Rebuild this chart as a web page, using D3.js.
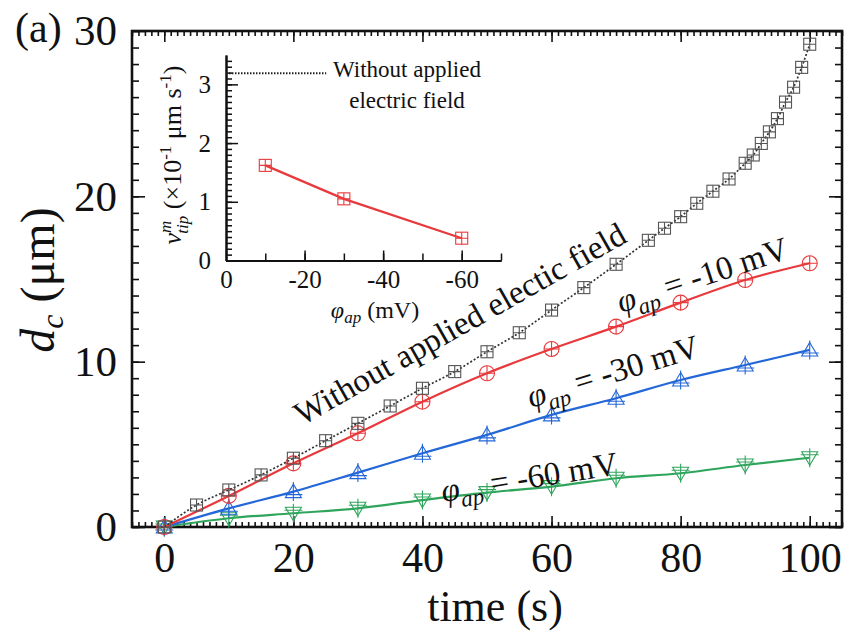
<!DOCTYPE html>
<html>
<head>
<meta charset="utf-8">
<script src="https://cdn.jsdelivr.net/npm/d3@7"></script>
<style>
body { margin: 0; background: white; }
svg { display: block; font-family: "Liberation Serif", "Times New Roman", serif; }
</style>
</head>
<body>
<div id="chart"></div>
<script>
// main panel: crack length d_c (um) vs time (s)
const timeNoField = [0, 5, 10, 15, 20, 25, 30, 35, 40, 45, 50, 55, 60, 65, 70, 75,
    77.5, 80, 82.5, 85, 87.5, 90, 91.25, 92.5, 93.75, 95, 96.25, 97.5, 98.75, 100]
const dcNoField = [0, 1.33, 2.24, 3.15, 4.16, 5.22, 6.27, 7.32, 8.39, 9.4, 10.6, 11.75, 13.12, 14.48, 15.89, 17.34,
    18.07, 18.77, 19.58, 20.31, 21.05, 22.0, 22.5, 23.2, 23.9, 24.7, 25.7, 26.6, 27.8, 29.2]

const timeApplied = [0, 10, 20, 30, 40, 50, 60, 70, 80, 90, 100]
const dcMinus10 = [0, 1.88, 3.85, 5.67, 7.58, 9.3, 10.77, 12.12, 13.57, 14.94, 15.95]
const dcMinus30 = [0, 1.13, 2.14, 3.29, 4.46, 5.57, 6.78, 7.79, 8.89, 9.8, 10.71]
const dcMinus60 = [0, 0.53, 0.83, 1.13, 1.63, 2.08, 2.44, 2.95, 3.25, 3.75, 4.19]

const xTicks = [0, 20, 40, 60, 80, 100]
const yTicks = [0, 10, 20, 30]

// inset: tip velocity vs applied potential
const insetPhi = [-10, -30, -60]
const insetVtip = [1.62, 1.05, 0.38]
const insetNoField = 3.19
const insetXTicks = [0, -20, -40, -60]
const insetYTicks = [0, 1, 2, 3]

const red = "#e8393c"
const blue = "#2467d8"
const green = "#2fa55c"
const grey = "#555"

const width = 850, height = 631

const svg = d3.select("#chart").append("svg")
    .attr("width", width)
    .attr("height", height)

const x = d3.scaleLinear().domain([-5, 105]).range([132, 842])
const y = d3.scaleLinear().domain([0, 30]).range([527, 31])

function styleAxis(g) {
    g.select(".domain").remove()
    g.selectAll(".tick line").attr("stroke", "#111").attr("stroke-width", 1.6)
    g.selectAll("text").attr("fill", "#111").attr("font-family", "Liberation Serif")
}

// minor ticks on all four sides
const minorX = d3.range(-5, 106, 1)
const minorY = d3.range(0, 31, 1)
svg.append("g").attr("transform", `translate(0,${y(0)})`)
    .call(d3.axisBottom(x).tickValues(minorX).tickSize(-5).tickFormat("")).call(styleAxis)
svg.append("g").attr("transform", `translate(0,${y(30)})`)
    .call(d3.axisTop(x).tickValues(minorX).tickSize(-5).tickFormat("")).call(styleAxis)
svg.append("g").attr("transform", `translate(${x(-5)},0)`)
    .call(d3.axisLeft(y).tickValues(minorY).tickSize(-7).tickFormat("")).call(styleAxis)
svg.append("g").attr("transform", `translate(${x(105)},0)`)
    .call(d3.axisRight(y).tickValues(minorY).tickSize(-7).tickFormat("")).call(styleAxis)

// major ticks + labels
svg.append("g").attr("transform", `translate(0,${y(0)})`)
    .call(d3.axisBottom(x).tickValues(xTicks).tickSize(-11).tickPadding(15).tickFormat(d => String(d)))
    .call(styleAxis)
    .selectAll("text").attr("font-size", 42)
svg.append("g").attr("transform", `translate(0,${y(30)})`)
    .call(d3.axisTop(x).tickValues(xTicks).tickSize(-11).tickFormat("")).call(styleAxis)
svg.append("g").attr("transform", `translate(${x(-5)},0)`)
    .call(d3.axisLeft(y).tickValues(yTicks).tickSize(-13).tickPadding(15).tickFormat(d => String(d)))
    .call(styleAxis)
    .selectAll("text").attr("font-size", 43)
svg.append("g").attr("transform", `translate(${x(105)},0)`)
    .call(d3.axisRight(y).tickValues(yTicks).tickSize(-13).tickFormat("")).call(styleAxis)

// frame
svg.append("rect")
    .attr("x", x(-5)).attr("y", y(30))
    .attr("width", x(105) - x(-5)).attr("height", y(0) - y(30))
    .attr("fill", "none").attr("stroke", "#111").attr("stroke-width", 2.6)

// markers
function drawMarkers(g, xs, ys, sx, sy, shape, color) {
    const pts = xs.map((t, i) => [sx(t), sy(ys[i])])
    const mg = g.append("g").attr("fill", "none").attr("stroke", color).attr("stroke-width", 1.1)
    pts.forEach(([px, py]) => {
        const m = mg.append("g").attr("transform", `translate(${px},${py})`)
        if (shape === "square") {
            m.append("rect").attr("x", -6).attr("y", -6).attr("width", 12).attr("height", 12)
            m.append("path").attr("d", "M-6,0H6M0,-6V6")
        } else if (shape === "circle") {
            m.append("circle").attr("r", 7.5)
            m.append("path").attr("d", "M-7.5,0H7.5M0,-7.5V7.5")
        } else if (shape === "up") {
            m.append("path").attr("d", "M0,-7.5L8,6H-8Z")
            m.append("path").attr("d", "M-9,3H9M0,-9.5V9.5")
        } else if (shape === "down") {
            m.append("path").attr("d", "M0,7.5L8,-6H-8Z")
            m.append("path").attr("d", "M-9,-3H9M0,-9.5V9.5")
        }
    })
}

function drawSeries(xs, ys, color, dash, shape, markerColor) {
    const line = d3.line().x(d => x(d[0])).y(d => y(d[1])).curve(d3.curveMonotoneX)
    const g = svg.append("g")
    g.append("path")
        .attr("d", line(xs.map((t, i) => [t, ys[i]])))
        .attr("fill", "none")
        .attr("stroke", color)
        .attr("stroke-width", dash ? 1.7 : 2.2)
        .attr("stroke-dasharray", dash)
    drawMarkers(g, xs, ys, x, y, shape, markerColor)
}

drawSeries(timeApplied, dcMinus60, green, null, "down", green)
drawSeries(timeApplied, dcMinus30, blue, null, "up", blue)
drawSeries(timeApplied, dcMinus10, red, null, "circle", red)
drawSeries(timeNoField, dcNoField, "#333", "2,2", "square", grey)

// curve labels
function phiLabel(tx, ty, angle, rest) {
    const t = svg.append("text")
        .attr("transform", `translate(${tx},${ty}) rotate(${angle})`)
        .attr("font-size", 33).attr("fill", "#111")
    t.append("tspan").attr("font-style", "italic").text("φ")
    t.append("tspan").attr("font-style", "italic").attr("font-size", 23).attr("dy", 8).text("ap")
    t.append("tspan").attr("dy", -8).text(" = " + rest)
}

svg.append("text")
    .attr("transform", "translate(302,426) rotate(-29.5)")
    .attr("font-size", 33).attr("fill", "#111")
    .text("Without applied electic field")
phiLabel(621, 313, -18, "-10 mV")
phiLabel(531, 408, -17, "-30 mV")
phiLabel(443, 502, -9, "-60 mV")

// axis titles
const yTitle = svg.append("text")
    .attr("transform", "translate(54,280) rotate(-90)")
    .attr("text-anchor", "middle").attr("font-size", 48).attr("fill", "#111")
yTitle.append("tspan").attr("font-style", "italic").text("d")
yTitle.append("tspan").attr("font-style", "italic").attr("font-size", 32).attr("dy", 9).text("c")
yTitle.append("tspan").attr("dy", -9).text(" (μm)")

svg.append("text")
    .attr("x", 495).attr("y", 621)
    .attr("text-anchor", "middle").attr("font-size", 44).attr("fill", "#111")
    .text("time (s)")

svg.append("text")
    .attr("x", 15).attr("y", 42)
    .attr("font-size", 42).attr("fill", "#111")
    .text("(a)")

// ---- inset ----
const xi = d3.scaleLinear().domain([0, -70]).range([226, 501])
const yi = d3.scaleLinear().domain([0, 3.5]).range([260.5, 55])

const inset = svg.append("g")

function styleInset(g) {
    g.select(".domain").attr("stroke", "#111").attr("stroke-width", 2)
    g.selectAll(".tick line").attr("stroke", "#111").attr("stroke-width", 1.5)
    g.selectAll("text").attr("fill", "#111").attr("font-family", "Liberation Serif").attr("font-size", 25)
}

inset.append("g").attr("transform", `translate(0,${yi(0)})`)
    .call(d3.axisBottom(xi).tickValues(d3.range(-10, -71, -10)).tickSize(-7).tickSizeOuter(0).tickFormat(""))
    .call(styleInset)
inset.append("g").attr("transform", `translate(0,${yi(0)})`)
    .call(d3.axisBottom(xi).tickValues(insetXTicks).tickSize(-10).tickSizeOuter(0).tickPadding(10).tickFormat(d => String(d)))
    .call(styleInset)
inset.append("g").attr("transform", `translate(${xi(0)},0)`)
    .call(d3.axisLeft(yi).tickValues(d3.range(0, 35, 1).map(v => v / 10)).tickSize(-6).tickSizeOuter(0).tickFormat(""))
    .call(styleInset)
inset.append("g").attr("transform", `translate(${xi(0)},0)`)
    .call(d3.axisLeft(yi).tickValues(insetYTicks).tickSize(-12).tickSizeOuter(0).tickPadding(15).tickFormat(d => String(d)))
    .call(styleInset)

inset.append("path")
    .attr("d", d3.line().x(d => xi(d[0])).y(d => yi(d[1]))(insetPhi.map((p, i) => [p, insetVtip[i]])))
    .attr("fill", "none").attr("stroke", red).attr("stroke-width", 2.2)
drawMarkers(inset, insetPhi, insetVtip, xi, yi, "square", red)

// reference line without field
inset.append("line")
    .attr("x1", xi(0)).attr("x2", xi(-25.5))
    .attr("y1", yi(insetNoField)).attr("y2", yi(insetNoField))
    .attr("stroke", "#222").attr("stroke-width", 2).attr("stroke-dasharray", "1.5,1.5")
inset.append("text")
    .attr("x", 333).attr("y", 77)
    .attr("font-size", 23).attr("fill", "#111")
    .text("Without applied")
inset.append("text")
    .attr("x", 407).attr("y", 108)
    .attr("text-anchor", "middle")
    .attr("font-size", 23).attr("fill", "#111")
    .text("electric field")

const xiTitle = inset.append("text")
    .attr("x", 375).attr("y", 318)
    .attr("text-anchor", "middle").attr("font-size", 24).attr("fill", "#111")
xiTitle.append("tspan").attr("font-style", "italic").text("φ")
xiTitle.append("tspan").attr("font-style", "italic").attr("font-size", 17).attr("dy", 5).text("ap")
xiTitle.append("tspan").attr("dy", -5).text(" (mV)")

const vLabel = inset.append("text")
    .attr("transform", "translate(181,155) rotate(-90)")
    .attr("text-anchor", "middle").attr("font-size", 26).attr("fill", "#111")
vLabel.append("tspan").attr("font-style", "italic").text("v")
vLabel.append("tspan").attr("font-style", "italic").attr("font-size", 17).attr("dy", -10).text("m")
vLabel.append("tspan").attr("font-style", "italic").attr("font-size", 17).attr("dx", -13).attr("dy", 17).text("tip")
vLabel.append("tspan").attr("dy", -7).text(" (×10")
vLabel.append("tspan").attr("font-size", 17).attr("dy", -10).text("-1")
vLabel.append("tspan").attr("dy", 10).text(" μm s")
vLabel.append("tspan").attr("font-size", 17).attr("dy", -10).text("-1")
vLabel.append("tspan").attr("dy", 10).text(")")
</script>
</body>
</html>
